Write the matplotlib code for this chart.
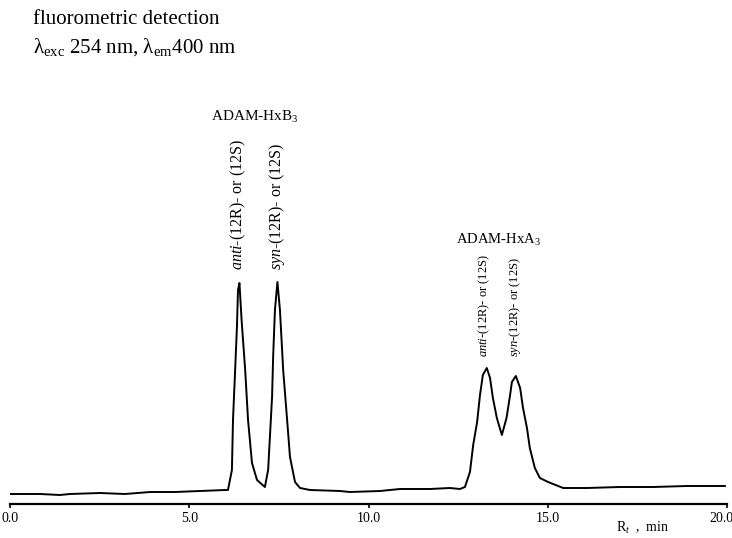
import matplotlib.pyplot as plt
import matplotlib.transforms as mtransforms
import numpy as np

plt.rcParams['font.family'] = ['Liberation Serif', 'DejaVu Serif']
plt.rcParams['mathtext.fontset'] = 'custom'
plt.rcParams['mathtext.rm'] = 'Liberation Serif'
plt.rcParams['mathtext.it'] = 'Liberation Serif:italic'

# retention time (min) and detector signal (arbitrary units)
rt = np.array([0.00, 0.84, 1.39, 1.67, 2.51, 3.21, 3.91, 4.60, 5.30, 6.00, 6.08,
               6.19, 6.22, 6.28, 6.33, 6.36, 6.40, 6.46, 6.56, 6.64, 6.75, 6.89,
               7.11, 7.20, 7.25, 7.31, 7.34, 7.39, 7.46, 7.53, 7.62, 7.73, 7.81,
               7.95, 8.09, 8.37, 9.21, 9.48, 10.32, 10.88, 11.72, 12.27, 12.55,
               12.69, 12.83, 12.92, 13.03, 13.11, 13.19, 13.30, 13.39, 13.47, 13.58,
               13.72, 13.85, 13.95, 14.00, 14.11, 14.23, 14.31, 14.42, 14.50, 14.64,
               14.78, 15.01, 15.15, 15.43, 16.09, 17.02, 17.94, 18.88, 19.80, 19.94])
signal = np.array([10, 10, 9, 10, 11, 10, 12, 12, 13, 14, 14,
                   34, 84, 134, 177, 214, 221, 184, 134, 84, 41, 24,
                   17, 34, 67, 107, 147, 194, 222, 194, 134, 84, 47,
                   22, 16, 14, 13, 12, 13, 15, 15, 16, 15,
                   17, 32, 59, 82, 109, 129, 136, 126, 106, 86,
                   69, 86, 109, 122, 128, 116, 96, 76, 56, 36,
                   26, 22, 20, 16, 16, 17, 17, 18, 18, 18])

xticks = [0, 5, 10, 15, 20]
xtick_labels = ["0.0", "5.0", "10.0", "15.0", "20.0"]

fig = plt.figure(figsize=(7.32, 5.38), dpi=100)
ax = fig.add_axes([10 / 732, 34 / 538, 717 / 732, 440 / 538])
ax.plot(rt, signal, color='black', lw=1.4)
ax.set_xlim(0, 20)
ax.set_ylim(0, 440)
ax.set_xticks(xticks)
ax.set_xticklabels(xtick_labels, fontsize=10)
ax.set_yticks([])
for s in ['left', 'top', 'right']:
    ax.spines[s].set_visible(False)
ax.spines['bottom'].set_linewidth(1.6)
ax.tick_params(axis='x', direction='out', length=3, width=1.2, pad=3)
# last label sits a little left, as in the scan
last = ax.get_xticklabels()[-1]
last.set_transform(last.get_transform() +
                   mtransforms.ScaledTranslation(-6 / 100, 0, fig.dpi_scale_trans))

# peak labels
ax.text(6.83, 387, "ADAM-HxB$_3$", ha='center', va='center', fontsize=11)
ax.text(6.36, 234, r"$\mathit{anti}$-(12R)- or (12S)", rotation=90,
        ha='center', va='bottom', fontsize=11.5)
ax.text(7.46, 234, r"$\mathit{syn}$-(12R)- or (12S)", rotation=90,
        ha='center', va='bottom', fontsize=11.5)
ax.text(13.62, 264, "ADAM-HxA$_3$", ha='center', va='center', fontsize=10.5)
ax.text(13.22, 147, r"$\mathit{anti}$-(12R)- or (12S)", rotation=90,
        ha='center', va='bottom', fontsize=9)
ax.text(14.08, 147, r"$\mathit{syn}$-(12R)- or (12S)", rotation=90,
        ha='center', va='bottom', fontsize=9)

fig.text(643 / 732, 1 - 528 / 538, "R$_t$  ,  min", ha='center', va='center', fontsize=10)
fig.text(33 / 732, 1 - 20 / 538, "fluorometric detection", ha='left', va='center', fontsize=15)
fig.text(33 / 732, 1 - 47 / 538, "λ$_{\\rm exc}$ 254 nm, λ$_{\\rm em}$400 nm",
         ha='left', va='center', fontsize=15)

fig.savefig("out.png", dpi=100)
